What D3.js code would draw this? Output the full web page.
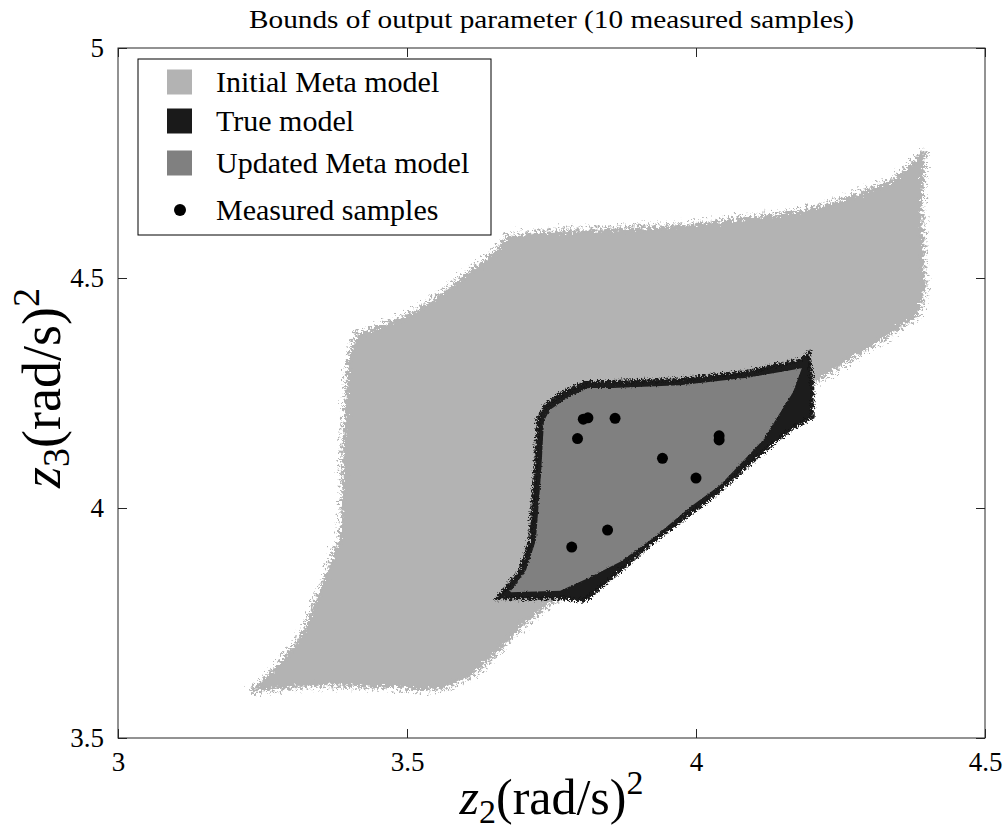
<!DOCTYPE html>
<html>
<head>
<meta charset="utf-8">
<script src="https://cdn.jsdelivr.net/npm/d3@7"></script>
<style>
  body { margin: 0; background: #fff; }
  svg { display: block; }
  text { font-family: "Liberation Serif", "DejaVu Serif", serif; fill: #000; }
</style>
</head>
<body>
<div id="chart"></div>
<script>
// axis ticks
var xTicks = [3, 3.5, 4, 4.5];
var yTicks = [3.5, 4, 4.5, 5];

// outline of the initial meta model cloud (z2, z3)
var initialMeta = [
  [3.230, 3.600], [3.280, 3.663], [3.320, 3.728], [3.355, 3.839], [3.384, 3.937],
  [3.389, 4.046], [3.388, 4.120], [3.393, 4.220], [3.398, 4.322], [3.413, 4.376],
  [3.465, 4.402], [3.510, 4.424], [3.552, 4.459], [3.597, 4.502], [3.656, 4.561],
  [3.673, 4.591], [3.742, 4.600], [3.856, 4.607], [3.972, 4.613], [4.088, 4.630],
  [4.168, 4.643], [4.227, 4.659], [4.284, 4.685], [4.341, 4.713], [4.375, 4.750],
  [4.396, 4.778], [4.391, 4.670], [4.393, 4.583], [4.396, 4.474], [4.382, 4.415],
  [4.266, 4.322], [4.180, 4.252], [4.076, 4.148], [4.007, 4.061], [3.926, 3.952],
  [3.834, 3.865], [3.747, 3.793], [3.696, 3.741], [3.656, 3.685], [3.609, 3.633],
  [3.569, 3.611], [3.528, 3.604], [3.483, 3.611], [3.424, 3.611], [3.367, 3.615],
  [3.310, 3.611], [3.251, 3.604]
];

// outline of the true model cloud
var trueModel = [
  [3.656, 3.804], [3.770, 3.804], [3.808, 3.798], [3.846, 3.839], [3.926, 3.926],
  [4.029, 4.024], [4.116, 4.122], [4.163, 4.170], [4.202, 4.198], [4.201, 4.278],
  [4.195, 4.337], [4.180, 4.322], [4.088, 4.296], [3.972, 4.280], [3.856, 4.274],
  [3.811, 4.274], [3.770, 4.252], [3.739, 4.224], [3.727, 4.196], [3.721, 4.076],
  [3.713, 3.930], [3.696, 3.865]
];

// outline of the updated meta model cloud
var updatedMeta = [
  [3.678, 3.817], [3.765, 3.820], [3.811, 3.846], [3.869, 3.883], [3.926, 3.935],
  [3.990, 4.002], [4.042, 4.050], [4.116, 4.148], [4.168, 4.252], [4.183, 4.304],
  [4.088, 4.283], [3.972, 4.267], [3.856, 4.261], [3.813, 4.261], [3.777, 4.239],
  [3.747, 4.213], [3.737, 4.189], [3.732, 4.076], [3.723, 3.930], [3.706, 3.865]
];

// measured samples
var samples = [
  [3.805, 4.193], [3.813, 4.196], [3.860, 4.195], [3.795, 4.151], [4.040, 4.157],
  [4.040, 4.148], [3.942, 4.108], [4.000, 4.065], [3.847, 3.952], [3.785, 3.915]
];

var legendLabels = ["Initial Meta model", "True model", "Updated Meta model", "Measured samples"];
var legendColors = ["#b3b3b3", "#1a1a1a", "#808080", "#000"];

var width = 1003, height = 836;
var margin = {top: 48, right: 18, bottom: 98, left: 118};

var svg = d3.select("#chart").append("svg")
  .attr("width", width)
  .attr("height", height);

var defs = svg.append("defs");

// ragged edges for the point clouds
function roughFilter(id, freq, scale, seed) {
  var f = defs.append("filter").attr("id", id)
    .attr("x", "-5%").attr("y", "-5%").attr("width", "110%").attr("height", "110%");
  f.append("feTurbulence")
    .attr("type", "fractalNoise")
    .attr("baseFrequency", freq)
    .attr("numOctaves", 2)
    .attr("seed", seed)
    .attr("result", "noise");
  f.append("feDisplacementMap")
    .attr("in", "SourceGraphic")
    .attr("in2", "noise")
    .attr("scale", scale)
    .attr("xChannelSelector", "R")
    .attr("yChannelSelector", "G");
}
roughFilter("rough-light", 0.35, 14, 3);
roughFilter("rough-dark", 0.7, 7, 7);
roughFilter("rough-mid", 0.6, 3, 11);

var x = d3.scaleLinear().domain([3, 4.5]).range([margin.left, width - margin.right]);
var y = d3.scaleLinear().domain([3.5, 5]).range([height - margin.bottom, margin.top]);

var line = d3.line().x(d => x(d[0])).y(d => y(d[1])).curve(d3.curveLinearClosed);

var plot = svg.append("g");

plot.append("path")
  .datum(initialMeta)
  .attr("d", line)
  .attr("fill", "#b3b3b3")
  .attr("stroke", "#b3b3b3")
  .attr("stroke-width", 8)
  .attr("stroke-dasharray", "2 5")
  .attr("filter", "url(#rough-light)");

plot.append("path")
  .datum(trueModel)
  .attr("d", line)
  .attr("fill", "#1a1a1a")
  .attr("stroke", "#1a1a1a")
  .attr("stroke-width", 4)
  .attr("stroke-dasharray", "4 2")
  .attr("filter", "url(#rough-dark)");

plot.append("path")
  .datum(updatedMeta)
  .attr("d", line)
  .attr("fill", "#808080")
  .attr("filter", "url(#rough-mid)");

plot.selectAll("circle.sample")
  .data(samples)
  .enter().append("circle")
  .attr("class", "sample")
  .attr("cx", d => x(d[0]))
  .attr("cy", d => y(d[1]))
  .attr("r", 5.5)
  .attr("fill", "#000");

// axes box, MATLAB style ticks pointing inward
var axisColor = "#262626";
var tickLen = 9;

function styleAxis(g) {
  g.attr("font-size", null).attr("font-family", null);
  g.select(".domain").remove();
  g.selectAll(".tick line").attr("stroke", axisColor);
  g.selectAll(".tick text")
    .style("font-size", "27px")
    .attr("fill", "#000");
}

svg.append("g")
  .attr("transform", "translate(0," + y(3.5) + ")")
  .call(d3.axisBottom(x).tickValues(xTicks).tickSize(-tickLen).tickPadding(14).tickFormat(d3.format("")))
  .call(styleAxis);

svg.append("g")
  .attr("transform", "translate(0," + y(5) + ")")
  .call(d3.axisTop(x).tickValues(xTicks).tickSize(-tickLen).tickFormat(""))
  .call(styleAxis);

svg.append("g")
  .attr("transform", "translate(" + x(3) + ",0)")
  .call(d3.axisLeft(y).tickValues(yTicks).tickSize(-tickLen).tickPadding(14).tickFormat(d3.format("")))
  .call(styleAxis);

svg.append("g")
  .attr("transform", "translate(" + x(4.5) + ",0)")
  .call(d3.axisRight(y).tickValues(yTicks).tickSize(-tickLen).tickFormat(""))
  .call(styleAxis);

svg.append("rect")
  .attr("x", x(3))
  .attr("y", y(5))
  .attr("width", x(4.5) - x(3))
  .attr("height", y(3.5) - y(5))
  .attr("fill", "none")
  .attr("stroke", axisColor)
  .attr("stroke-width", 1);

// title
svg.append("text")
  .attr("x", (x(3) + x(4.5)) / 2)
  .attr("y", 28)
  .attr("text-anchor", "middle")
  .attr("textLength", 605)
  .attr("lengthAdjust", "spacingAndGlyphs")
  .style("font-size", "26px")
  .text("Bounds of output parameter (10 measured samples)");

// axis labels
var xl = svg.append("text")
  .attr("x", (x(3) + x(4.5)) / 2)
  .attr("y", 814)
  .attr("text-anchor", "middle")
  .style("font-size", "50px");
xl.append("tspan").style("font-style", "italic").text("z");
xl.append("tspan").attr("dy", 9).style("font-size", "34px").text("2");
xl.append("tspan").attr("dy", -9).text("(rad/s)");
xl.append("tspan").attr("dy", -20).style("font-size", "34px").text("2");

var yl = svg.append("text")
  .attr("transform", "translate(60," + 388 + ") rotate(-90)")
  .attr("text-anchor", "middle")
  .style("font-size", "54px");
yl.append("tspan").style("font-style", "italic").text("z");
yl.append("tspan").attr("dy", 9).style("font-size", "38px").text("3");
yl.append("tspan").attr("dy", -9).text("(rad/s)");
yl.append("tspan").attr("dy", -21).style("font-size", "38px").text("2");

// legend
var legend = svg.append("g").attr("transform", "translate(138,59)");
legend.append("rect")
  .attr("width", 353)
  .attr("height", 176)
  .attr("fill", "#fff")
  .attr("stroke", "#000")
  .attr("stroke-width", 1);

var rowY = [23, 62, 104, 151];
legendLabels.forEach(function(label, i) {
  if (i < 3) {
    legend.append("rect")
      .attr("x", 29)
      .attr("y", rowY[i] - 12.5)
      .attr("width", 25)
      .attr("height", 25)
      .attr("fill", legendColors[i]);
  } else {
    legend.append("circle")
      .attr("cx", 42)
      .attr("cy", rowY[i])
      .attr("r", 6)
      .attr("fill", legendColors[i]);
  }
  legend.append("text")
    .attr("x", 78)
    .attr("y", rowY[i] + 10)
    .style("font-size", "30px")
    .text(label);
});
</script>
</body>
</html>
